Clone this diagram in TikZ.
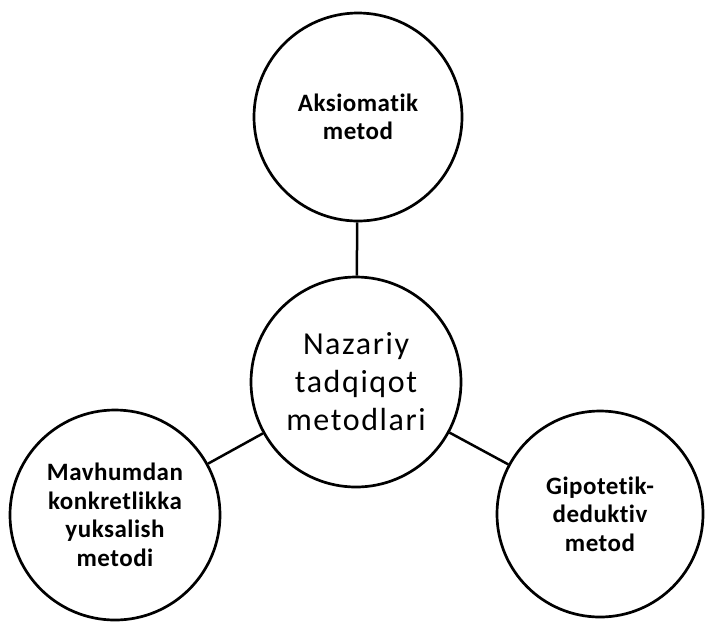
\documentclass[tikz,border=0pt]{standalone}
\usepackage{fontspec}
\setmainfont{Carlito}
\newfontfamily\smallfnt[LetterSpace=2,Ligatures=NoCommon]{Carlito Bold}
\newfontfamily\bigfnt[LetterSpace=5,Ligatures=NoCommon]{Carlito}
\begin{document}
\begin{tikzpicture}[x=1pt,y=-1pt,
  ring/.style={circle,draw=black,line width=2.7pt,inner sep=0pt,align=center},
  leaf/.style={ring,minimum size=208pt,font=\smallfnt\fontsize{25}{28.5}\selectfont},
  hub/.style={ring,minimum size=210pt,font=\bigfnt\fontsize{32}{38}\selectfont},
  link/.style={line width=2.5pt}]
\useasboundingbox (0,0) rectangle (708,622);
\node[leaf] (top) at (358,117) {Aksiomatik\\metod};
\node[hub] (mid) at (356,382) {Nazariy\\tadqiqot\\metodlari};
\node[leaf,minimum size=210pt] (bl) at (115,515) {Mavhumdan\\konkretlikka\\yuksalish\\metodi};
\node[leaf,minimum size=206pt] (br) at (600,514) {Gipotetik-\\deduktiv\\metod};
\draw[link] (top) -- (mid);
\draw[link] (mid) -- (bl);
\draw[link] (mid) -- (br);
\end{tikzpicture}
\end{document}
